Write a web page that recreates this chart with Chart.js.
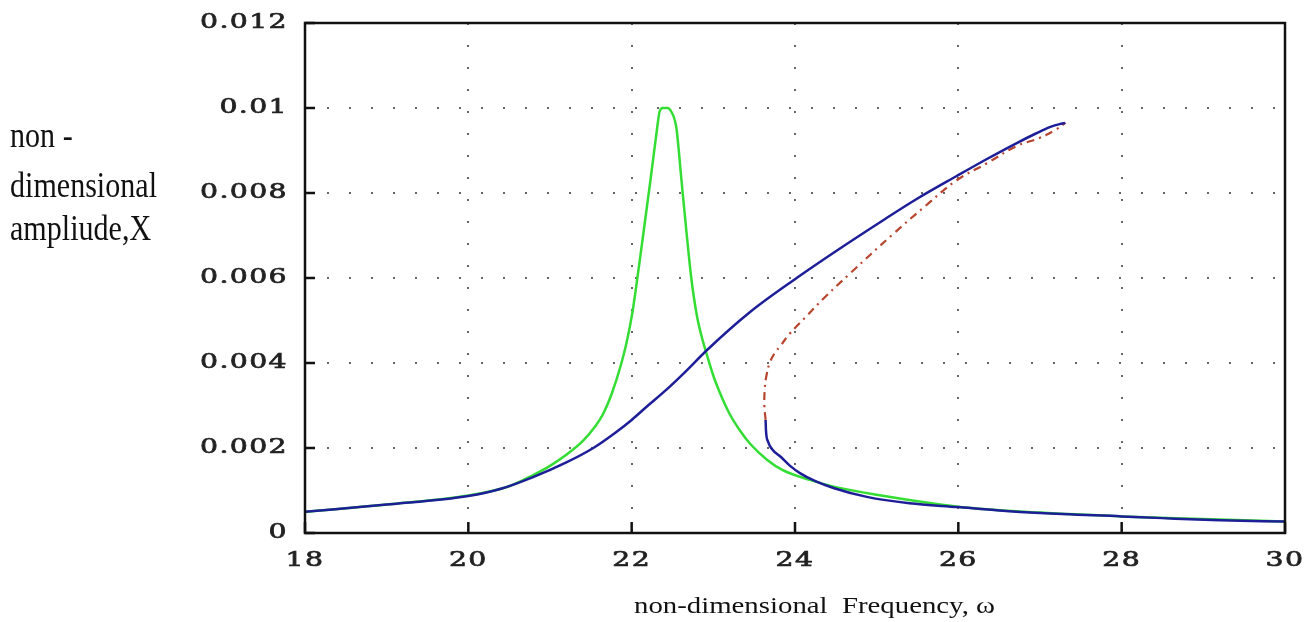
<!DOCTYPE html>
<html>
<head>
<meta charset="utf-8">
<script src="https://cdn.jsdelivr.net/npm/chart.js@4.4.1/dist/chart.umd.min.js"></script>
<style>
  body { margin: 0; background: #fff; }
  #grafico { display: block; }
</style>
</head>
<body>
<canvas id="grafico" width="1315" height="622"></canvas>
<script>
// Ejes
var xTicks = [18, 20, 22, 24, 26, 28, 30];
var xTickLabels = ['18', '20', '22', '24', '26', '28', '30'];
var yTicks = [0, 0.002, 0.004, 0.006, 0.008, 0.010, 0.012];
var yTickLabels = ['0', '0.002', '0.004', '0.006', '0.008', '0.01', '0.012'];

// Curva lineal (verde)
var verdeX = [18, 19, 20, 20.5, 20.8, 21.0, 21.2, 21.4, 21.55, 21.65, 21.76, 21.86, 21.94, 22.01, 22.07, 22.14, 22.23, 22.31, 22.34, 22.38, 22.44, 22.49, 22.53, 22.55, 22.61, 22.67, 22.73, 22.8, 22.86, 22.92, 23.0, 23.08, 23.2, 23.33, 23.45, 23.66, 23.85, 24.18, 24.5, 25, 26, 27, 28, 29, 30];
var verdeY = [0.0005, 0.00067, 0.00088, 0.0011, 0.00137, 0.00158, 0.00184, 0.00216, 0.0025, 0.0028, 0.0033, 0.0039, 0.0045, 0.0052, 0.0060, 0.0070, 0.0083, 0.0095, 0.0099, 0.0100, 0.0100, 0.0099, 0.0097, 0.0095, 0.0083, 0.0071, 0.0060, 0.0051, 0.0046, 0.0042, 0.0037, 0.0033, 0.0028, 0.0024, 0.0021, 0.00172, 0.00148, 0.00125, 0.00108, 0.0009, 0.00062, 0.00048, 0.00039, 0.00033, 0.00027];

// Rama superior no lineal (azul)
var azulX = [18, 19, 20, 20.4, 20.8, 21.2, 21.53, 21.8, 22.0, 22.2, 22.43, 22.65, 22.92, 23.45, 24.02, 24.5, 25.08, 25.5, 25.98, 26.35, 26.71, 26.95, 27.12, 27.24, 27.31];
var azulY = [0.0005, 0.00067, 0.00087, 0.00104, 0.00132, 0.00166, 0.002, 0.00236, 0.00266, 0.003, 0.00338, 0.00378, 0.0043, 0.0052, 0.0060, 0.00663, 0.00736, 0.00787, 0.0084, 0.0088, 0.00917, 0.0094, 0.00955, 0.00962, 0.00965];

// Rama inferior (azul)
var azulBajoX = [23.64, 23.645, 23.67, 23.72, 23.82, 23.94, 24.06, 24.25, 24.47, 24.88, 25.4, 25.99, 26.5, 27.0, 28.0, 28.5, 29.2, 30];
var azulBajoY = [0.00266, 0.0024, 0.00215, 0.00197, 0.0018, 0.00158, 0.00141, 0.00122, 0.00106, 0.00085, 0.0007, 0.00061, 0.00053, 0.00047, 0.00039, 0.00035, 0.0003, 0.00027];

// Rama inestable (rojo, punto-raya)
var rojoX = [23.64, 23.625, 23.63, 23.65, 23.69, 23.75, 23.82, 23.94, 24.14, 24.34, 24.67, 25.21, 25.6, 25.98, 26.35, 26.71, 27.0, 27.2, 27.31];
var rojoY = [0.00266, 0.0030, 0.0034, 0.0037, 0.0040, 0.00423, 0.0044, 0.0047, 0.0051, 0.0055, 0.0061, 0.00705, 0.0077, 0.0083, 0.0087, 0.0091, 0.0093, 0.0095, 0.00965];

function puntos(xs, ys) {
    var arr = [];
    for (var i = 0; i < xs.length; i++) {
        arr.push({ x: xs[i], y: ys[i] });
    }
    return arr;
}

// texto ensanchado/estrechado horizontalmente
function textoEscalado(ctx, txt, x, y, esc, grosor) {
    ctx.save();
    ctx.translate(x, y);
    ctx.scale(esc, 1);
    ctx.fillText(txt, 0, 0);
    if (grosor) {
        ctx.lineWidth = grosor;
        ctx.strokeText(txt, 0, 0);
    }
    ctx.restore();
}

var marcoPlugin = {
    id: 'marco',
    afterDraw: function(chart) {
        var ctx = chart.ctx;
        var area = chart.chartArea;
        var sx = chart.scales.x;
        var sy = chart.scales.y;
        ctx.save();

        // marco
        ctx.strokeStyle = '#111';
        ctx.lineWidth = 2.5;
        ctx.strokeRect(area.left, area.top, area.right - area.left, area.bottom - area.top);

        // marcas hacia adentro
        ctx.beginPath();
        for (var i = 0; i < xTicks.length; i++) {
            var px = sx.getPixelForValue(xTicks[i]);
            ctx.moveTo(px, area.bottom);
            ctx.lineTo(px, area.bottom - 11);
        }
        for (var j = 0; j < yTicks.length; j++) {
            var py = sy.getPixelForValue(yTicks[j]);
            ctx.moveTo(area.left, py);
            ctx.lineTo(area.left + 10, py);
        }
        ctx.stroke();

        // etiquetas de los ticks (fuente ancha)
        ctx.fillStyle = '#222';
        ctx.strokeStyle = '#222';
        ctx.font = '21px "DejaVu Serif"';
        ctx.letterSpacing = '1px';
        ctx.textBaseline = 'middle';
        ctx.textAlign = 'right';
        for (var a = 0; a < yTicks.length; a++) {
            textoEscalado(ctx, yTickLabels[a], area.left - 17, sy.getPixelForValue(yTicks[a]), 1.35, 0.7);
        }
        ctx.textAlign = 'center';
        for (var b = 0; b < xTicks.length; b++) {
            textoEscalado(ctx, xTickLabels[b], sx.getPixelForValue(xTicks[b]), area.bottom + 28, 1.35, 0.7);
        }
        ctx.letterSpacing = '0px';

        // titulo eje y (horizontal, a la izquierda)
        ctx.fillStyle = '#111';
        ctx.textAlign = 'left';
        ctx.textBaseline = 'alphabetic';
        ctx.font = '36px "Liberation Serif"';
        var lineas = ['non -', 'dimensional', 'ampliude,X'];
        var bases = [147, 197, 240];
        var esc = 147 / ctx.measureText('dimensional').width;
        for (var k = 0; k < lineas.length; k++) {
            textoEscalado(ctx, lineas[k], 10, bases[k], esc);
        }

        // titulo eje x
        ctx.font = '24px "Liberation Serif"';
        var tx = 'non-dimensional  Frequency, \u03c9';
        textoEscalado(ctx, tx, 634, 613, 361 / ctx.measureText(tx).width);

        ctx.restore();
    }
};

function colorGrid(c) {
    var v = c.tick ? c.tick.value : null;
    if (c.scale.axis === 'x' && (v === 18 || v === 30)) return 'rgba(0,0,0,0)';
    if (c.scale.axis === 'y' && (v === 0 || v === 0.012)) return 'rgba(0,0,0,0)';
    return '#666';
}

var grafico = new Chart(document.getElementById('grafico').getContext('2d'), {
    type: 'scatter',
    data: {
        datasets: [
            {
                data: puntos(azulX, azulY),
                showLine: true,
                borderColor: '#1e1e98',
                borderWidth: 2.5,
                pointRadius: 0,
                cubicInterpolationMode: 'monotone',
                order: 1
            },
            {
                data: puntos(azulBajoX, azulBajoY),
                showLine: true,
                borderColor: '#1e1e98',
                borderWidth: 2.5,
                pointRadius: 0,
                cubicInterpolationMode: 'monotone',
                order: 2
            },
            {
                data: puntos(rojoX, rojoY),
                showLine: true,
                borderColor: '#b8452e',
                borderWidth: 2.2,
                borderDash: [8, 5, 2, 5],
                pointRadius: 0,
                tension: 0.4,
                order: 3
            },
            {
                data: puntos(verdeX, verdeY),
                showLine: true,
                borderColor: '#33dd33',
                borderWidth: 2.5,
                pointRadius: 0,
                cubicInterpolationMode: 'monotone',
                order: 4
            }
        ]
    },
    options: {
        responsive: false,
        animation: false,
        devicePixelRatio: 1,
        layout: { padding: { left: 0, right: 30, top: 23, bottom: 0 } },
        plugins: {
            legend: { display: false },
            tooltip: { enabled: false }
        },
        scales: {
            x: {
                type: 'linear',
                min: 18,
                max: 30,
                afterBuildTicks: function(scale) {
                    scale.ticks = xTicks.map(function(v) { return { value: v }; });
                },
                afterFit: function(scale) { scale.height = 89; },
                ticks: { display: false },
                grid: { color: colorGrid, lineWidth: 2, drawTicks: false },
                border: { display: false, dash: [2, 20] }
            },
            y: {
                type: 'linear',
                min: 0,
                max: 0.012,
                afterBuildTicks: function(scale) {
                    scale.ticks = yTicks.map(function(v) { return { value: v }; });
                },
                afterFit: function(scale) { scale.width = 305; },
                ticks: { display: false },
                grid: { color: colorGrid, lineWidth: 2, drawTicks: false },
                border: { display: false, dash: [2, 20] }
            }
        }
    },
    plugins: [marcoPlugin]
});
</script>
</body>
</html>
